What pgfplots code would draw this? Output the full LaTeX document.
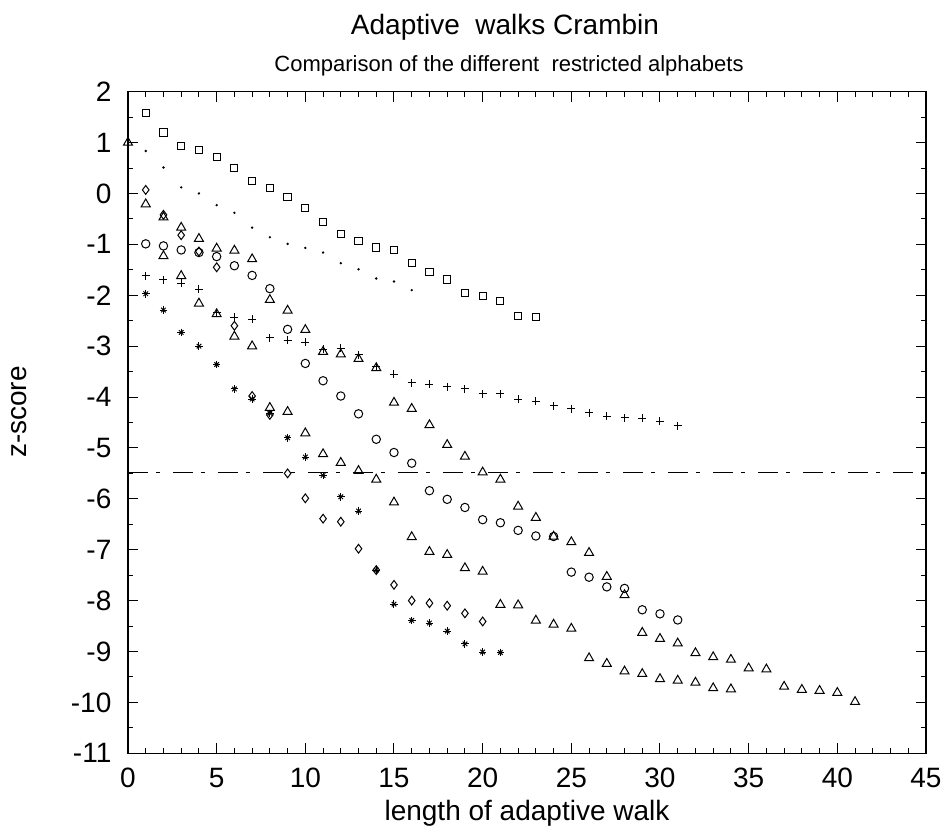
\documentclass[border=0pt]{standalone}
\usepackage{fontspec}
\setmainfont{Liberation Sans}
\usepackage{pgfplots}
\usepackage{pgfplotstable}
\pgfplotsset{compat=1.18}

\pgfplotstableread{
x y
1 1.58
2 1.20
3 0.93
4 0.855
5 0.72
6 0.50
7 0.245
8 0.10
9 -0.075
10 -0.29
11 -0.56
12 -0.79
13 -0.94
14 -1.06
15 -1.11
16 -1.36
17 -1.54
18 -1.69
19 -1.96
20 -2.02
21 -2.11
22 -2.40
23 -2.42
}\squares

\pgfplotstableread{
x y
1 0.835
2 0.51
3 0.12
4 0.0
5 -0.23
6 -0.38
7 -0.67
8 -0.86
9 -0.99
10 -1.07
11 -1.16
12 -1.37
13 -1.49
14 -1.67
15 -1.73
16 -1.90
}\dots

\pgfplotstableread{
x y
0 1.0
1 -0.21
2 -0.47
3 -0.67
4 -0.89
5 -1.08
6 -1.12
7 -1.29
8 -2.09
9 -2.30
10 -2.68
11 -3.11
12 -3.16
13 -3.25
14 -3.43
15 -4.11
16 -4.23
17 -4.55
18 -4.94
19 -5.17
20 -5.48
21 -5.62
22 -6.15
23 -6.37
24 -6.74
25 -6.85
26 -7.06
27 -7.53
28 -7.89
29 -8.63
30 -8.75
31 -8.84
32 -9.03
33 -9.11
34 -9.16
35 -9.33
36 -9.35
37 -9.69
38 -9.75
39 -9.77
40 -9.81
41 -9.99
}\triA

\pgfplotstableread{
x y
2 -1.23
3 -1.62
4 -2.16
5 -2.37
6 -2.81
7 -3.00
8 -4.21
9 -4.29
10 -4.71
11 -5.12
12 -5.29
13 -5.45
14 -5.62
15 -6.07
16 -6.75
17 -7.04
18 -7.10
19 -7.36
20 -7.43
21 -8.08
22 -8.09
23 -8.39
24 -8.47
25 -8.55
26 -9.13
27 -9.24
28 -9.39
29 -9.44
30 -9.54
31 -9.57
32 -9.61
33 -9.72
34 -9.74
}\triB

\pgfplotstableread{
x y
1 0.07
2 -0.42
3 -0.82
4 -1.14
5 -1.45
6 -2.60
7 -3.98
8 -4.35
9 -5.50
10 -5.99
11 -6.39
12 -6.45
13 -6.98
14 -7.40
15 -7.69
16 -8.00
17 -8.05
18 -8.10
19 -8.25
20 -8.41
}\diamonds

\pgfplotstableread{
x y
1 -0.99
2 -1.03
3 -1.11
4 -1.16
5 -1.24
6 -1.42
7 -1.61
8 -1.87
9 -2.67
10 -3.34
11 -3.68
12 -3.98
13 -4.33
14 -4.83
15 -5.09
16 -5.30
17 -5.84
18 -6.01
19 -6.17
20 -6.41
21 -6.47
22 -6.62
23 -6.73
24 -6.74
25 -7.44
26 -7.54
27 -7.73
28 -7.76
29 -8.18
30 -8.26
31 -8.38
}\circles

\pgfplotstableread{
x y
1 -1.62
2 -1.70
3 -1.76
4 -1.88
5 -2.34
6 -2.43
7 -2.47
8 -2.83
9 -2.88
10 -2.92
11 -3.06
12 -3.04
13 -3.17
14 -3.40
15 -3.55
16 -3.72
17 -3.75
18 -3.80
19 -3.84
20 -3.94
21 -3.94
22 -4.04
23 -4.08
24 -4.17
25 -4.23
26 -4.31
27 -4.38
28 -4.41
29 -4.42
30 -4.48
31 -4.56
}\pluses

\pgfplotstableread{
x y
1 -1.97
2 -2.29
3 -2.73
4 -3.00
5 -3.36
6 -3.84
7 -4.04
8 -4.32
9 -4.80
10 -5.18
11 -5.54
12 -5.96
13 -6.24
14 -7.40
15 -8.07
16 -8.39
17 -8.44
18 -8.60
19 -8.85
20 -9.01
21 -9.02
}\stars

\begin{document}
\begin{tikzpicture}
\begin{axis}[
  scale only axis, width=399pt, height=330.8pt,
  xmin=0, xmax=45, ymin=-11, ymax=2,
  clip=false,
  xtick={0,5,...,45},
  xticklabels={0,5,10,15,20,25,30,35,40,45},
  minor x tick num=4,
  ytick={-11,-10,...,2},
  yticklabels={-11,-10,-9,-8,-7,-6,-5,-4,-3,-2,-1,0,1,2},
  minor y tick num=1,
  xtick pos=both, ytick pos=both,
  xticklabel pos=lower, yticklabel pos=left,
  tick align=inside,
  major tick length=5pt, minor tick length=2.5pt,
  tick style={black, line width=0.5pt},
  axis line style={black, line width=0.6pt},
  ticklabel style={font=\fontsize{14}{16}\selectfont},
  xticklabel style={yshift=-3.8pt},
  yticklabel style={xshift=-4.8pt},
  every axis plot/.append style={line width=0.5pt},
]
\addplot[black, only marks, mark=square, mark size=1.8pt] table {\squares};
\addplot[black, only marks, mark=*, mark size=0.3pt] table {\dots};
\addplot[black, only marks, mark=triangle, mark size=2.6pt] table {\triA};
\addplot[black, only marks, mark=triangle, mark size=2.6pt] table {\triB};
\addplot[black, only marks, mark=diamond, mark size=2.2pt] table {\diamonds};
\addplot[black, only marks, mark=o, mark size=2.1pt] table {\circles};
\addplot[black, only marks, mark=+, mark size=2.0pt] table {\pluses};
\addplot[black, only marks, mark=+, mark size=1.9pt] table {\stars};
\addplot[black, only marks, mark=x, mark size=1.6pt] table {\stars};
\addplot[black, line width=0.5pt, dash pattern=on 10pt off 4pt on 2pt off 6.5pt] coordinates {(0,-5.48) (45,-5.48)};
\end{axis}
\node[anchor=base, font=\fontsize{14}{16}\selectfont] at (188.5pt,359.15pt) {Adaptive\ \ walks Crambin};
\node[anchor=base, font=\fontsize{11}{13}\selectfont] at (190.5pt,340.65pt) {Comparison of the different\ \ restricted alphabets};
\node[anchor=base, font=\fontsize{14}{16}\selectfont] at (199.5pt,-33.85pt) {length of adaptive walk};
\node[anchor=base, rotate=90, font=\fontsize{14}{16}\selectfont] at (-50.5pt,170.6pt) {z-score};
\pgfresetboundingbox
\path[use as bounding box] (-64pt,-40.35pt) rectangle (408pt,376.65pt);
\end{tikzpicture}
\end{document}
